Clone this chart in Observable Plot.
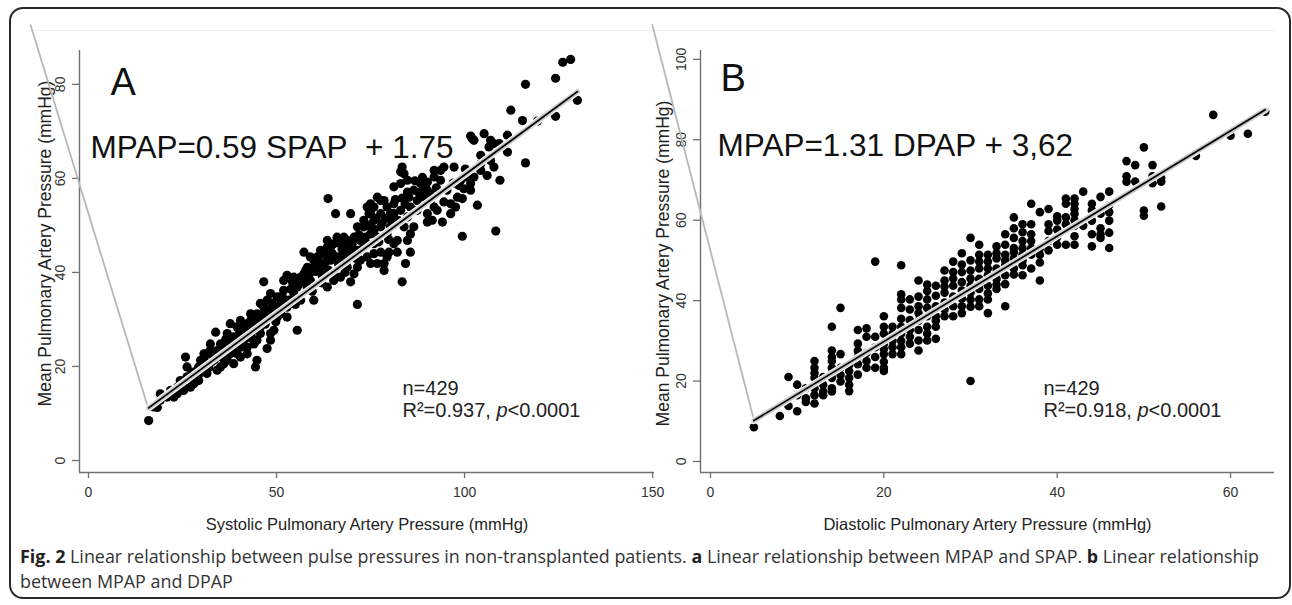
<!DOCTYPE html>
<html>
<head>
<meta charset="utf-8">
<script src="https://cdn.jsdelivr.net/npm/d3@7"></script>
<script src="https://cdn.jsdelivr.net/npm/@observablehq/plot@0.6"></script>
<style>
  html, body { margin: 0; padding: 0; background: #fff; }
  #page { position: relative; width: 1292px; height: 605px; overflow: hidden; }
  .layer { position: absolute; left: 0; top: 0; }
  #frame { position: absolute; left: 9px; top: 7px; width: 1282px; height: 592px; box-sizing: border-box;
           border: 2px solid #2b2b2b; border-radius: 14px; }
  #faint { position: absolute; left: 30px; top: 30px; width: 1245px; height: 0; border-top: 1px solid #f1f1f1; }
  #caption { position: absolute; left: 20px; top: 544px; font-family: "Open Sans", "DejaVu Sans", sans-serif;
             font-size: 17.9px; line-height: 25px; color: #333; white-space: nowrap; }
  #caption b { color: #222; }
</style>
</head>
<body>
<div id="page">
  <div id="frame"></div>
  <div id="faint"></div>
  <div id="plotA" class="layer"></div>
  <div id="plotB" class="layer"></div>
  <div id="caption"><b>Fig. 2</b> Linear relationship between pulse pressures in non-transplanted patients. <b>a</b> Linear relationship between MPAP and SPAP. <b>b</b> Linear relationship<br>between MPAP and DPAP</div>
</div>
<script>
// ---------------- DATA ----------------
// Panel A: [SPAP, MPAP] (mmHg)
const pointsA = [
[16,8.5],[18.3,11.3],[19.1,14.2],[17.3,11.4],[19.1,12.8],[20.9,13.5],[21.8,14.9],[22.7,13.5],[23.6,14.2],[23.6,15.6],
[24.4,17.0],[25.3,15.6],[25.3,14.9],[25.8,22],[26.2,19.9],[26.2,17.8],[27.1,17.8],[27.1,15.6],[28,16.3],[28,18.5],
[28.9,19.2],[29.3,19.9],[29.3,17],[29.8,21.3],[30.7,22.7],[30.7,21.3],[31.5,20.6],[31.5,18.5],[31.5,22.7],[32.4,23.4],
[32.4,24.8],[33.3,22],[33.8,27.3],[34.2,19.2],[34.2,23.4],[35.1,24.8],[35.1,19.9],[36,23.4],[36,20.6],[36.9,27],
[36.9,22.7],[36.9,21.3],[36.9,24.8],[37.7,29.1],[37.7,22.7],[38.6,24.1],[38.6,20.6],[38.6,26.3],[39.5,28.4],[39.5,25.6],
[39.5,22.7],[40.4,29.8],[40.4,25.6],[40.4,22],[40.4,24.1],[41.3,27],[41.3,28.4],[42.2,29.1],[42.2,24.1],[42.2,22.7],
[43.1,31.2],[43.1,27],[43.1,29.8],[44,27.7],[44,24.8],[44.4,19.9],[44.8,31.2],[44.8,25.6],[44.8,21.3],[45.7,33.4],
[45.7,28.4],[45.7,27],[46.6,38],[46.6,29.8],[46.6,32.6],[47.5,34.1],[47.5,23.8],[47.5,30.5],[48.4,35.5],[48.4,25.6],
[48.4,31.2],[48.4,27],[49.3,32.6],[49.3,27.7],[50.2,34.8],[50.2,30.5],[51.1,31.2],[51.1,33.4],[51.9,38.3],[51.9,36.2],
[52.8,39.4],[52.8,30.5],[52.8,32.6],[53.3,34.1],[54.6,39],[54.6,35.5],[55.5,27.7],[55.5,36.9],[56.4,39],[56.4,34.1],
[57.3,44.3],[57.3,39.7],[58.2,36.9],[58.2,41.1],[59,38.3],[59,43.3],[59.9,41.1],[59.9,42.6],[59.9,34.1],[60.8,43.3],
[61.7,44.7],[61.7,41.1],[62.1,39.4],[62.6,44],[63.5,45.4],[63.5,36.9],[63.5,42.6],[63.5,46.8],[63.7,55.7],[64.4,42.6],
[64.4,45.4],[65.2,46.1],[65.2,38.3],[65.2,39.7],[65.7,52.5],[66.1,43.3],[66.1,47.5],[67,46.1],[67,39],[67,43.3],
[67.9,44],[67.9,47.5],[68.8,46.8],[68.8,42.6],[68.8,41.1],[68.8,45.4],[69.7,52.5],[69.7,38],[69.7,43.3],[70.6,47.5],
[70.6,39.7],[70.6,44.7],[71.5,44.7],[71.5,33.2],[71.5,49.7],[71.5,41.1],[72.3,46.8],[72.3,42.6],[73.2,49.7],[73.2,51.1],
[74.1,46.1],[74.1,43.3],[74.1,53.9],[74.6,52.5],[75,54.6],[75,41.9],[75,48.2],[75,52.5],[75.9,51.1],[75.9,48.9],
[75.9,46.1],[75.9,53.9],[75.9,44],[76.8,47.5],[76.8,56],[76.8,41.9],[77.7,55.3],[77.7,49.7],[77.7,44.3],[77.7,52.5],
[78.6,55.3],[78.6,41.9],[78.6,40.4],[79.4,48.2],[79.4,53.9],[79.4,43.3],[79.9,44.3],[80.3,52.5],[80.3,49.7],[81.2,54.6],
[81.2,46.1],[81.2,58.2],[81.2,52.5],[82.1,44.3],[82.1,46.8],[83,58.9],[83,53.2],[83,61.4],[83.4,62.4],[83.4,38],
[83.9,61],[83.9,49.7],[84.3,41.9],[84.8,59.6],[84.8,57.1],[84.8,46.8],[84.8,51.8],[85.6,44.3],[85.6,53.9],[85.6,48.2],
[86.5,57.5],[86.5,49.7],[87.4,55.3],[87.4,53.2],[88.3,56],[88.3,58.9],[89.2,58.2],[90.1,59.2],[90.1,52.5],[90.1,50.7],
[90.1,57.5],[90.9,56.7],[90.9,55.3],[91.4,51.1],[91.9,60.3],[91.9,53.9],[91.9,61.7],[92.7,53.2],[93.6,61.7],[93.6,59.6],
[94.1,50.7],[94.5,62.4],[94.5,55],[96.3,52.5],[96.3,54.6],[97.2,62.4],[97.6,53.9],[98.1,56],[99,59.6],[99.4,55.7],
[99.4,47.7],[99.8,57.8],[100.7,60.3],[101.6,58.9],[101.6,69],[101.6,57.5],[102,68.5],[102.5,68.1],[102.5,60.3],[103.4,54.3],
[104.3,61.7],[104.3,64.9],[104.3,63.1],[105.2,69.5],[106,60.6],[106.5,66.7],[106.9,63.8],[106.9,68.1],[107.8,67.4],[107.8,62.4],
[108.3,48.8],[109.2,67.4],[109.4,59.6],[111.4,69.2],[111.4,65.6],[112.3,74.5],[115.4,72.3],[116.2,63.3],[116.2,80],[119.4,72.2],
[124.2,73.2],[124.2,81.3],[126.1,84.7],[128.2,85.3],[130,76.6],
// dense core of the cloud
[27.5,18.8],[28.5,17.5],[29.5,18.5],[30.2,19.5],[31,20],[32,19.8],[32.8,21],[33.5,21.5],[34.5,22.5],[35.5,22],
[36.5,25.8],[37.3,24],[38,25.2],[39,23.8],[40,26.8],[41,25],[41.8,26],[42.6,28],[43.5,26],[44.3,29],[45,30],
[46,31],[47,29],[47.8,32],[48.8,33.5],[49.8,29.5],[50.6,32],[51.5,35],[52.3,34],[53.8,36.5],[54.2,38],[55,33.2],
[56,37.5],[57,38.2],[57.8,40.5],[58.6,39.5],[59.5,36],[60.3,40.2],[61.2,42.5],[62,37.8],[62.8,42],[63.8,40.5],[64.8,44],
[66.5,41.8],[67.4,45],[68.2,40],[69.2,44.5],[70.1,46],[71,43],[71.9,48],[72.8,45],[73.6,47.5],[74.5,50],[75.4,49.5],
[76.3,51.5],[77.2,46.5],[78.1,50.5],[79,51.5],[79.8,47],[80.7,50.8],[81.6,55.5],[82.5,51],[83.4,55.8],[84.2,54.5],[85.2,56],
[86.8,59.5],[87.8,57],[88.8,60.2],[89.6,56.2],[92.5,58],[95.3,57.5],[97,59],[98.5,58.5],[100.2,62]
];

// Panel B: DPAP value -> list of MPAP values observed in that column
const dpapColumns = [
[5,[8.5]],[8,[11.3]],[9,[21,13.8]],[10,[19.1,16.5,12.5]],[11,[18.2,15.7,14.8]],
[12,[20.8,18.2,14.4,25,23.3,16.5,22]],[13,[19.1,17.4,16.5,21]],[14,[33.5,27.6,25,23.3,20.8,18.2,17.4,22,26]],
[15,[38.2,26.7,23.3,19.9,21.5]],[16,[22.5,20.8,19.1,17.5,24]],[17,[32.7,29.3,24.2,21.6,26,27.5]],[18,[33.1,31,25,23.3,27]],
[19,[49.7,31,28.4,23.3,26]],[20,[36.1,33.5,31.8,29.3,26.7,23.3,22.5,24.8,28]],[21,[33.5,31.8,28.4,26.7,30]],
[22,[48.8,41.6,40.3,38.2,31.8,28.4,26.7,30,33.5,35.5]],[23,[40.3,37.8,35.2,32.7,29.3,31]],[24,[45,38.6,36.9,32.7,30.1,27.6,35,41]],
[25,[42.4,40.3,36.1,33.5,31.8,30.1,38.2,44]],[26,[43.7,41.2,38.6,36.1,33.5,30.5,35]],[27,[47.5,45,42,39.5,36.1,37.8,43.5]],
[28,[49.7,47.1,43.7,38.6,36.1,41,45.5]],[29,[51.8,47.1,44.6,38.6,36.9,40.5,42.5,49]],[30,[55.6,43.7,42,40.3,20,38.5,45.5,47.5,50]],
[31,[53.9,51.4,49.7,48,45.4,42.9,40.3,38.6,44]],[32,[51.4,49.7,46.3,43.7,40.3,36.9,41.8,48]],[33,[53.5,50.5,48,45.4,42.9,51.8,47,44]],
[34,[56.5,53.9,51.4,48.8,46.3,44.1,38.6,50]],[35,[60.7,55.6,53.1,50.5,48,46.5,52,58]],[36,[59,54.8,51.4,48.8,46.3,50,53,57]],
[37,[64.1,59,54.8,51.4,48,56.5,53]],[38,[62,51.4,45,49.5,53]],[39,[62.8,57.3,54.8,59,52.5]],[40,[59.9,57.7,53.9,55.8,61]],
[41,[65.4,64.1,60.7,59,53.9]],[42,[65.4,64.1,61.6,58.6,56,53.9,60,62.8]],[43,[67.1,58.6]],[44,[64.1,59.9,56.5,53.5,62.5]],
[45,[65.8,61.6,56.5,55.6,58]],[46,[67.1,63.7,59.9,56.9,53.1,62]],[48,[74.7,70.9,69.6]],[49,[73.7,69.6]],
[50,[78.1,62.4,61.1]],[51,[73.7,70.9,69.2]],[52,[70.5,69.6,63.4]],[56,[76]],[58,[86.2]],[60,[81]],[62,[81.5]],[64,[87]]
];
const pointsB = dpapColumns.flatMap(([x, ys]) => ys.map(y => [x, y]));

// Fitted lines (from the printed equations) and observed x range
const fitA = {slope: 0.59, intercept: 1.75, xFrom: 16, xTo: 130};
const fitB = {slope: 1.31, intercept: 3.62, xFrom: 5, xTo: 64};

// Stray grey segment of the original figure (in data units)
const strayA = [[-15.4, 92.6], [16, 10.8]];
const strayB = [[-6.7, 108.5], [5, 10.4]];

// Axis ticks
const xTicksA = [0, 50, 100, 150];
const yTicksA = [0, 20, 40, 60, 80];
const xTicksB = [0, 20, 40, 60];
const yTicksB = [0, 20, 40, 60, 80, 100];

// Texts
const panelLabels = ["A", "B"];
const equations = ["MPAP=0.59 SPAP\u00a0 + 1.75", "MPAP=1.31 DPAP + 3,62"];
const nTexts = ["n=429", "n=429"];
const statTexts = ["R\u00b2=0.937, p<0.0001", "R\u00b2=0.918, p<0.0001"];
const xTitles = ["Systolic Pulmonary Artery Pressure (mmHg)", "Diastolic Pulmonary Artery Pressure (mmHg)"];
const yTitle = "Mean Pulmonary Artery Pressure (mmHg)";

// ---------------- DRAW ----------------
const FONT = "'Liberation Sans', Arial, Helvetica, sans-serif";
const AXIS = "#707070";
const TICKTXT = "#333";

function fitLine(f) {
  return [f.xFrom, f.xTo].map(x => [x, f.slope * x + f.intercept]);
}

function panel(o) {
  const fit = fitLine(o.fit);
  const [x0, x1] = o.xDomain, [y0, y1] = o.yDomain;
  const svg = Plot.plot({
    width: 1292, height: 540,
    marginLeft: o.ml, marginRight: o.mr, marginTop: 50, marginBottom: 68,
    style: {background: "transparent", overflow: "visible", fontFamily: FONT, fontSize: "14px", color: TICKTXT},
    x: {domain: o.xDomain},
    y: {domain: o.yDomain},
    marks: [
      // axis lines
      Plot.ruleX([x0], {y1: y0, y2: y1, stroke: AXIS, strokeWidth: 1.4}),
      Plot.ruleY([y0], {x1: x0, x2: x1, stroke: AXIS, strokeWidth: 1.4}),
      Plot.axisX(o.xTicks, {tickSize: 6, tickPadding: 9, stroke: AXIS, fill: TICKTXT, fontSize: 14, label: null, strokeWidth: 1.3}),
      Plot.axisY(o.yTicks, {tickSize: 7, tickFormat: () => "", stroke: AXIS, label: null, strokeWidth: 1.3}),
      Plot.text(o.yTicks, {y: d => d, text: d => String(d), frameAnchor: "left", dx: -19, rotate: -90,
                           textAnchor: "middle", lineAnchor: "middle", fontSize: 14, fill: TICKTXT}),
      // axis titles
      Plot.text([o.xTitle], {text: d => d, frameAnchor: "bottom", dy: 52, lineAnchor: "middle", fontSize: 16.5, fill: "#222"}),
      Plot.text([yTitle], {text: d => d, frameAnchor: "left", dx: o.ytDx, dy: o.ytDy, rotate: -90,
                           textAnchor: "middle", lineAnchor: "middle", fontSize: 17.5, fill: "#222"}),
      // stray grey segment
      Plot.line(o.stray, {x: d => d[0], y: d => d[1], stroke: "#b8b8b8", strokeWidth: 1.8}),
      // points
      Plot.dot(o.points, {x: d => d[0], y: d => d[1], r: o.r, fill: "#000", stroke: "none"}),
      // fit with CI band
      Plot.line(fit, {x: d => d[0], y: d => d[1], stroke: "#fff", strokeWidth: 7}),
      Plot.line(fit, {x: d => d[0], y: d => d[1], stroke: "#c9c9c9", strokeWidth: 5}),
      Plot.line(fit, {x: d => d[0], y: d => d[1], stroke: "#000", strokeWidth: 1.7}),
      // annotations
      Plot.text([o.label], {text: d => d, frameAnchor: "top-left", dx: o.lblDx, dy: o.lblDy, textAnchor: "start",
                            lineAnchor: "middle", fontSize: 38, fill: "#111"}),
      Plot.text([o.eq], {text: d => d, frameAnchor: "top-left", dx: o.eqDx, dy: o.eqDy, textAnchor: "start",
                         lineAnchor: "middle", fontSize: 31.5, fill: "#111"}),
      Plot.text([o.n], {text: d => d, frameAnchor: "top-left", dx: o.nDx, dy: 338, textAnchor: "start",
                        lineAnchor: "middle", fontSize: 20, fill: "#222"}),
      Plot.text([o.stat], {text: d => d, frameAnchor: "top-left", dx: o.nDx, dy: 360, textAnchor: "start",
                           lineAnchor: "middle", fontSize: 20, fill: "#222"})
    ]
  });
  // italic "p" in the statistics line
  const ns = "http://www.w3.org/2000/svg";
  svg.querySelectorAll("text").forEach(t => {
    const s = t.textContent;
    const i = s.indexOf("p<");
    if (s.startsWith("R\u00b2") && i > 0) {
      t.textContent = "";
      const a = document.createElementNS(ns, "tspan"); a.textContent = s.slice(0, i);
      const b = document.createElementNS(ns, "tspan"); b.textContent = "p"; b.setAttribute("font-style", "italic");
      const c = document.createElementNS(ns, "tspan"); c.textContent = s.slice(i + 1);
      t.append(a, b, c);
    }
  });
  return svg;
}

document.getElementById("plotA").append(panel({
  ml: 79, mr: 1292 - 654, xDomain: [-2.39, 150.5], yDomain: [-2.55, 87.2],
  xTicks: xTicksA, yTicks: yTicksA, xTitle: xTitles[0], ytDx: -34, ytDy: -18,
  stray: strayA, points: pointsA, r: 4.6, fit: fitA,
  label: panelLabels[0], lblDx: 31, lblDy: 32, eq: equations[0], eqDx: 11, eqDy: 97,
  n: nTexts[0], stat: statTexts[0], nDx: 323
}));

document.getElementById("plotB").append(panel({
  ml: 700, mr: 1292 - 1274, xDomain: [-1.154, 65.07], yDomain: [-2.74, 102.2],
  xTicks: xTicksB, yTicks: yTicksB, xTitle: xTitles[1], ytDx: -37, ytDy: 2,
  stray: strayB, points: pointsB, r: 4.3, fit: fitB,
  label: panelLabels[1], lblDx: 20, lblDy: 28, eq: equations[1], eqDx: 17, eqDy: 95,
  n: nTexts[1], stat: statTexts[1], nDx: 343
}));
</script>
</body>
</html>
